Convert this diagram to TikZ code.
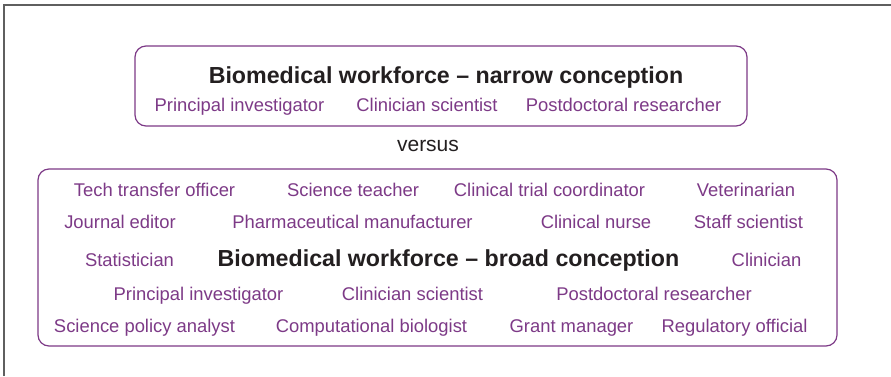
\documentclass[tikz,border=0pt]{standalone}
\usepackage{fontspec}
\setmainfont{Liberation Sans}
\definecolor{plum}{RGB}{125,58,135}
\definecolor{ink}{RGB}{35,31,32}
\definecolor{framegray}{RGB}{95,95,95}
\begin{document}
\begin{tikzpicture}[x=1pt,y=-1pt,
  job/.style={anchor=base, inner sep=0pt, text=plum, font=\fontsize{18.4}{20}\selectfont},
  head/.style={anchor=base, inner sep=0pt, text=ink, font=\fontsize{23.2}{26}\selectfont\bfseries},
  vs/.style={anchor=base, inner sep=0pt, text=ink, font=\fontsize{21}{24}\selectfont},
  groupbox/.style={draw=plum, line width=1.2pt, rounded corners=11pt},
  outerframe/.style={draw=framegray, line width=1.4pt}]
\useasboundingbox (0,0) rectangle (891,376);
\fill[white] (0,0) rectangle (891,376);
\draw[outerframe] (4,376) -- (4,5) -- (891,5);
% narrow box
\draw[groupbox] (135,46) rectangle (747,126);
\node[head] (narrowtitle) at (446,83.5) {Biomedical workforce – narrow conception};
\node[job] (npi) at (239.5,111.5) {Principal investigator};
\node[job] (ncs) at (427,111.5) {Clinician scientist};
\node[job] (npd) at (623.5,111.5) {Postdoctoral researcher};
\node[vs] (versus) at (428,151) {versus};
% broad box
\draw[groupbox] (38,169) rectangle (837,346);
\node[job] (b11) at (154.5,196) {Tech transfer officer};
\node[job] (b12) at (353,196) {Science teacher};
\node[job] (b13) at (549.5,196) {Clinical trial coordinator};
\node[job] (b14) at (746,196) {Veterinarian};
\node[job] (b21) at (120,228.5) {Journal editor};
\node[job] (b22) at (352.5,228.5) {Pharmaceutical manufacturer};
\node[job] (b23) at (596,228.5) {Clinical nurse};
\node[job] (b24) at (748.5,228.5) {Staff scientist};
\node[job] (b31) at (129.5,266) {Statistician};
\node[head] (broadtitle) at (448.5,266) {Biomedical workforce – broad conception};
\node[job] (b33) at (766.5,266) {Clinician};
\node[job] (b41) at (198.5,300) {Principal investigator};
\node[job] (b42) at (412.5,300) {Clinician scientist};
\node[job] (b43) at (654,300) {Postdoctoral researcher};
\node[job] (b51) at (144.5,332) {Science policy analyst};
\node[job] (b52) at (371.5,332) {Computational biologist};
\node[job] (b53) at (571.5,332) {Grant manager};
\node[job] (b54) at (734.5,332) {Regulatory official};
\end{tikzpicture}
\end{document}
